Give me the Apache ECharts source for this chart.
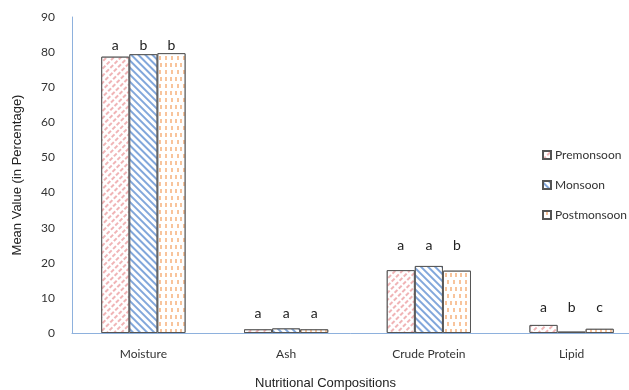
<!DOCTYPE html>
<html><head><meta charset="utf-8">
<script src="https://cdn.jsdelivr.net/npm/echarts@6/dist/echarts.min.js"></script>
<style>html,body{margin:0;padding:0;background:#fff}#c{width:629px;height:390px}</style>
</head><body><div id="c"></div>
<script>
const categories = ['Moisture', 'Ash', 'Crude Protein', 'Lipid'];
const premonsoon = [78.7, 1.05, 17.9, 2.3];
const monsoon = [79.4, 1.3, 19.1, 0.4];
const postmonsoon = [79.7, 1.05, 17.75, 1.2];
const letterPre = ['a', 'a', 'a', 'a'];
const letterMon = ['b', 'a', 'a', 'b'];
const letterPost = ['b', 'a', 'b', 'c'];
const letterLevel = [82, 5.7, 25, 7.4];
const yTicks = [0, 10, 20, 30, 40, 50, 60, 70, 80, 90];

const font = 'Lato, "Liberation Sans", sans-serif';
const titleFont = '"Liberation Sans", Arial, sans-serif';
const decals = [
  {symbol: 'rect', color: '#f0b4b6', backgroundColor: '#fff', dashArrayX: [[4, 1.2]], dashArrayY: [1.1, 2.6], rotation: -Math.PI / 4},
  {symbol: 'rect', color: '#82a7db', backgroundColor: '#fff', dashArrayX: [1, 0], dashArrayY: [1.8, 2.2], rotation: Math.PI / 4},
  {symbol: 'rect', color: '#f8c49c', backgroundColor: '#fff', dashArrayX: [[1.5, 3], [0, 2.2, 1.5, 0.8]], dashArrayY: [4, 2.2], rotation: 0}
];
const names = ['Premonsoon', 'Monsoon', 'Postmonsoon'];
const vals = [premonsoon, monsoon, postmonsoon];
const letters = [letterPre, letterMon, letterPost];

const series = [];
names.forEach((n, i) => {
  series.push({
    name: n, type: 'bar', xAxisIndex: 0, data: vals[i],
    barGap: '0%', barCategoryGap: '41%',
    itemStyle: {color: '#fff', borderColor: '#555', borderWidth: 1, decal: decals[i]},
    emphasis: {disabled: true}
  });
});
names.forEach((n, i) => {
  series.push({
    type: 'bar', xAxisIndex: 1, data: letterLevel.slice(),
    barGap: '0%', barCategoryGap: '41%', silent: true,
    itemStyle: {color: 'rgba(0,0,0,0)'},
    label: {show: true, position: 'insideTop', distance: 0, verticalAlign: 'middle',
      formatter: p => letters[i][p.dataIndex], fontFamily: font, fontSize: 14, color: '#222'}
  });
});

const chart = echarts.init(document.getElementById('c'));
chart.setOption({
  animation: false,
  grid: {left: 72, width: 571, top: 17, height: 316, containLabel: false, outerBoundsMode: 'none'},
  legend: {
    data: names, orient: 'vertical', left: 542, top: 149, itemGap: 18, padding: 0,
    itemWidth: 8, itemHeight: 8, icon: 'rect',
    textStyle: {fontFamily: font, fontSize: 12, color: '#333', padding: [0, 0, 0, -1]}
  },
  xAxis: [{
    type: 'category', data: categories,
    axisLine: {lineStyle: {color: '#8eb1dd', width: 1}}, axisTick: {show: false},
    axisLabel: {fontFamily: font, fontSize: 12, color: '#333', margin: 15},
    name: 'Nutritional Compositions', nameLocation: 'middle', nameGap: 44,
    nameTextStyle: {fontFamily: titleFont, fontSize: 13, color: '#222', padding: [0, 64, 0, 0]}
  }, {
    type: 'category', data: categories, show: false
  }],
  yAxis: {
    type: 'value', min: 0, max: 90, interval: 10,
    axisLine: {show: true, lineStyle: {color: '#8eb1dd'}}, axisTick: {show: false}, splitLine: {show: false},
    axisLabel: {fontFamily: font, fontSize: 12, color: '#333', margin: 17,
      formatter: v => yTicks.includes(v) ? String(v) : ''},
    name: 'Mean Value (in Percentage)', nameLocation: 'middle', nameGap: 48, nameRotate: 90,
    nameTextStyle: {fontFamily: titleFont, fontSize: 13, color: '#222'}
  },
  series: series
});
</script></body></html>
